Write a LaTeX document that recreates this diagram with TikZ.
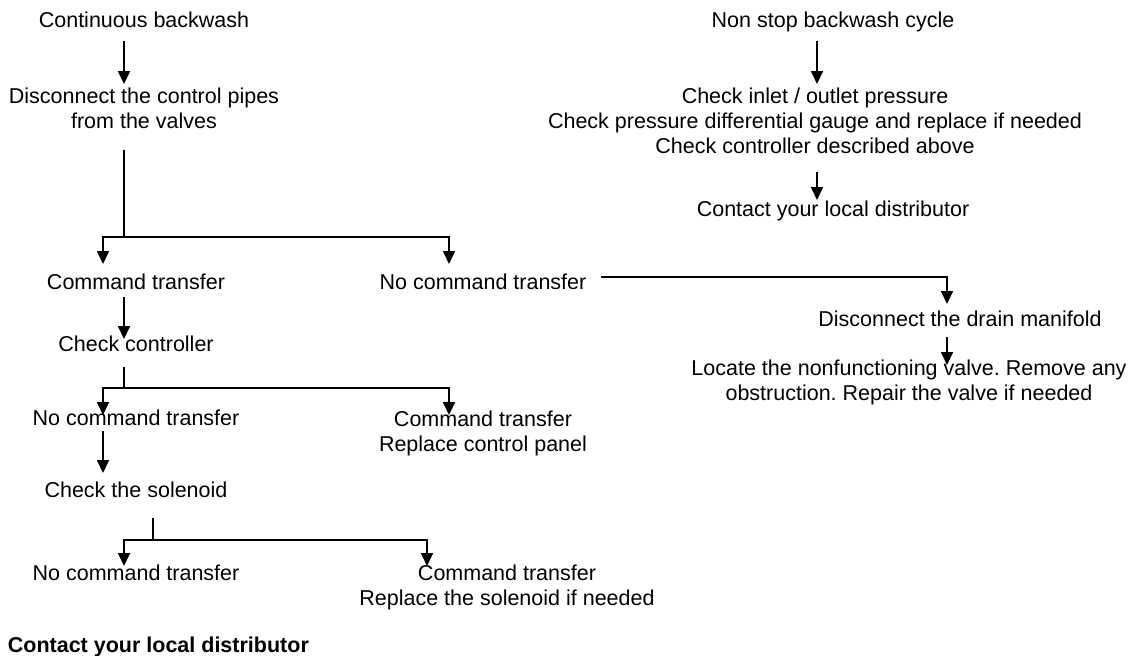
\documentclass[tikz,border=0pt]{standalone}
\usepackage{fontspec}
\setmainfont{Liberation Sans}
\usetikzlibrary{arrows.meta}
\frenchspacing
\begin{document}
\begin{tikzpicture}[x=0.5pt, y=-0.5pt, line width=0.85pt,
        >={Triangle[width=6pt,length=6.5pt]},
        txt/.style={inner sep=0pt, anchor=base, align=center, font=\fontsize{10.75pt}{12.5pt}\selectfont}]
    \useasboundingbox (0,0) rectangle (1141,655);
    \coordinate (cA) at (124,0);
    \coordinate (cB) at (103,0);
    \coordinate (cC) at (449,0);
    \coordinate (cD) at (817,0);
    \coordinate (cE) at (947,0);
    \coordinate (cF) at (153,0);
    \coordinate (cG) at (427,0);

    \node[txt] (ttl) at (144,27) {Continuous backwash};
    \node[txt] (disc) at (144,128) {Disconnect the control pipes\\from the valves};
    \node[txt] (cmd) at (136,289) {Command transfer};
    \node[txt] (nocmd) at (483,289) {No command transfer};
    \node[txt] (drain) at (960,326) {Disconnect the drain manifold};
    \node[txt] (locate) at (909,400) {Locate the nonfunctioning valve. Remove any\\obstruction. Repair the valve if needed};
    \node[txt] (chk) at (136,351) {Check controller};
    \node[txt] (nocmdB) at (136,425) {No command transfer};
    \node[txt] (cmdrep) at (483,451) {Command transfer\\Replace control panel};
    \node[txt] (sol) at (136,497) {Check the solenoid};
    \node[txt] (nocmdC) at (136,580) {No command transfer};
    \node[txt] (cmdsol) at (507,605) {Command transfer\\Replace the solenoid if needed};
    \node[txt, anchor=base west, font=\fontsize{10.75pt}{12.5pt}\selectfont\bfseries] (final) at (7,652) {Contact your local distributor};
    \node[txt] (nonstop) at (833,27) {Non stop backwash cycle};
    \node[txt] (chkin) at (815,153) {Check inlet / outlet pressure\\Check pressure differential gauge and replace if needed\\Check controller described above};
    \node[txt] (contact) at (833,216) {Contact your local distributor};

    \draw[->] ([yshift=-7pt]ttl.base -| cA) -- ([yshift=22pt]disc.base -| cA);
    \draw ([yshift=-11pt]disc.base -| cA) -- ++(0,87) coordinate (j1);
    \draw[->] (j1) -| ([yshift=12.5pt]cmd.base -| cB);
    \draw[->] (j1) -| ([yshift=12.5pt]nocmd.base -| cC);
    \draw[->] ([xshift=7pt,yshift=6pt]nocmd.base east) -| ([yshift=11pt]drain.base -| cE);
    \draw[->] ([yshift=-5.5pt]drain.base -| cE) -- ([yshift=17.5pt]locate.base -| cE);
    \draw[->] ([yshift=-4pt]cmd.base -| cA) -- ([yshift=6pt]chk.base -| cA);
    \draw ([yshift=-8pt]chk.base -| cA) -- ++(0,21) coordinate (j2);
    \draw[->] (j2) -| ([yshift=5pt]nocmdB.base -| cB);
    \draw[->] (j2) -| ([yshift=18pt]cmdrep.base -| cC);
    \draw[->] ([yshift=-3pt]nocmdB.base -| cB) -- ([yshift=12pt]sol.base -| cB);
    \draw ([yshift=-10.5pt]sol.base -| cF) -- ++(0,22) coordinate (j3);
    \draw[->] (j3) -| ([yshift=7pt]nocmdC.base -| cA);
    \draw[->] (j3) -| ([yshift=19.5pt]cmdsol.base -| cG);
    \draw[->] ([yshift=-7pt]nonstop.base -| cD) -- ([yshift=34.5pt]chkin.base -| cD);
    \draw[->] ([yshift=-9.5pt]chkin.base -| cD) -- ([yshift=8pt]contact.base -| cD);
\end{tikzpicture}
\end{document}
